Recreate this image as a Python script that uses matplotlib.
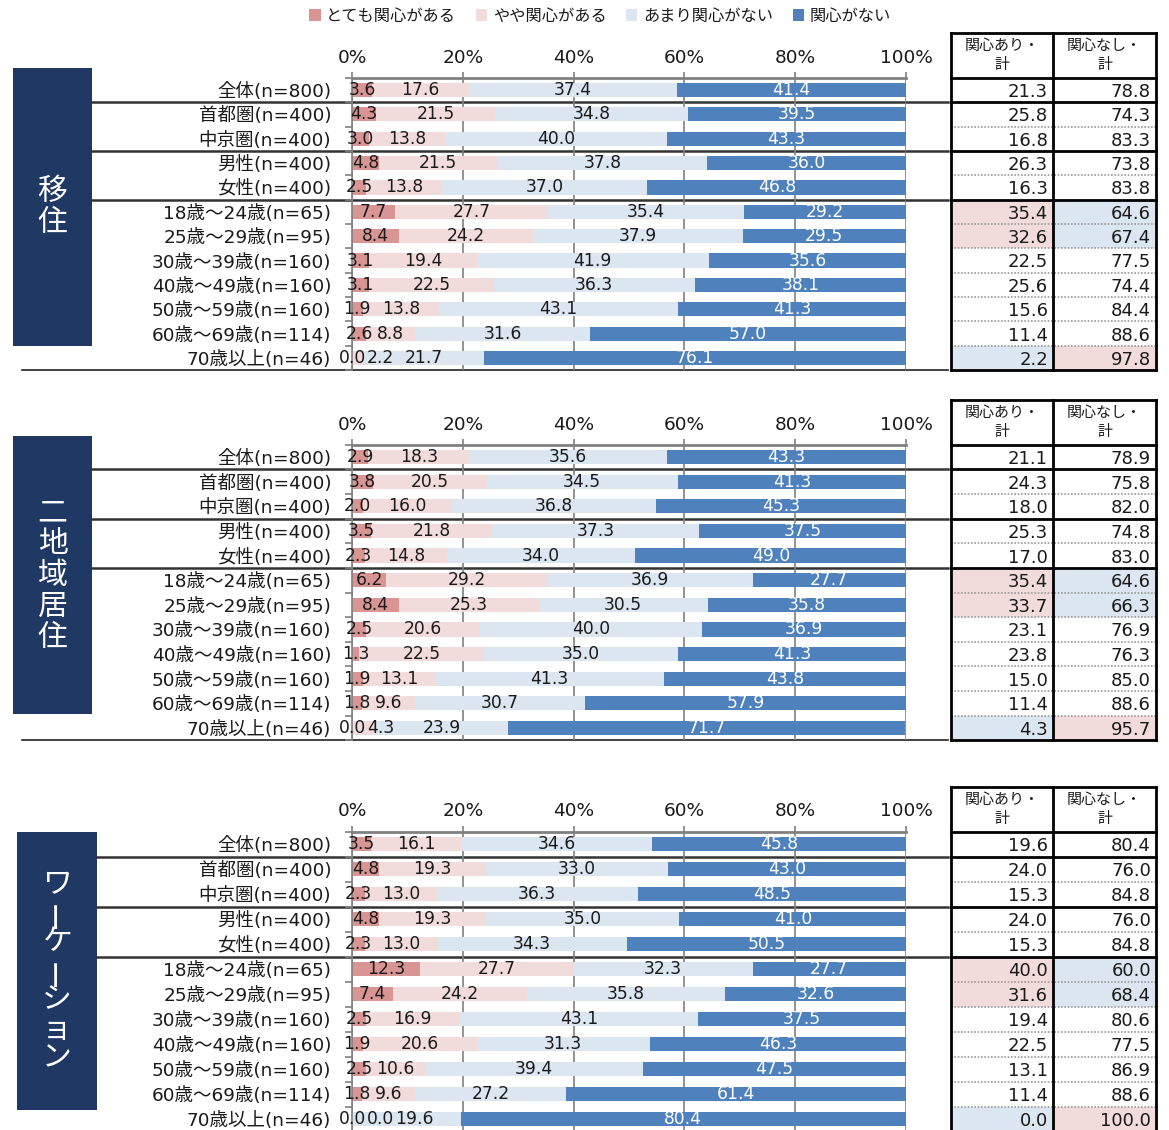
import matplotlib
matplotlib.use('Agg')
import matplotlib.pyplot as plt
from matplotlib.patches import Rectangle
from matplotlib.transforms import blended_transform_factory

plt.rcParams['font.family'] = ['DejaVu Sans', 'Noto Sans CJK JP']

W, H = 1169, 1130

# 回答カテゴリと色
categories = ['とても関心がある', 'やや関心がある', 'あまり関心がない', '関心がない']
colors = ['#D99594', '#F2DCDB', '#DCE6F1', '#4F81BD']

row_labels = ['全体(n=800)', '首都圏(n=400)', '中京圏(n=400)', '男性(n=400)', '女性(n=400)',
              '18歳～24歳(n=65)', '25歳～29歳(n=95)', '30歳～39歳(n=160)', '40歳～49歳(n=160)',
              '50歳～59歳(n=160)', '60歳～69歳(n=114)', '70歳以上(n=46)']

# 移住
iju_1 = [3.6, 4.3, 3.0, 4.8, 2.5, 7.7, 8.4, 3.1, 3.1, 1.9, 2.6, 0.0]
iju_2 = [17.6, 21.5, 13.8, 21.5, 13.8, 27.7, 24.2, 19.4, 22.5, 13.8, 8.8, 2.2]
iju_3 = [37.4, 34.8, 40.0, 37.8, 37.0, 35.4, 37.9, 41.9, 36.3, 43.1, 31.6, 21.7]
iju_4 = [41.4, 39.5, 43.3, 36.0, 46.8, 29.2, 29.5, 35.6, 38.1, 41.3, 57.0, 76.1]
iju_ari = [21.3, 25.8, 16.8, 26.3, 16.3, 35.4, 32.6, 22.5, 25.6, 15.6, 11.4, 2.2]
iju_nashi = [78.8, 74.3, 83.3, 73.8, 83.8, 64.6, 67.4, 77.5, 74.4, 84.4, 88.6, 97.8]

# 二地域居住
nichiiki_1 = [2.9, 3.8, 2.0, 3.5, 2.3, 6.2, 8.4, 2.5, 1.3, 1.9, 1.8, 0.0]
nichiiki_2 = [18.3, 20.5, 16.0, 21.8, 14.8, 29.2, 25.3, 20.6, 22.5, 13.1, 9.6, 4.3]
nichiiki_3 = [35.6, 34.5, 36.8, 37.3, 34.0, 36.9, 30.5, 40.0, 35.0, 41.3, 30.7, 23.9]
nichiiki_4 = [43.3, 41.3, 45.3, 37.5, 49.0, 27.7, 35.8, 36.9, 41.3, 43.8, 57.9, 71.7]
nichiiki_ari = [21.1, 24.3, 18.0, 25.3, 17.0, 35.4, 33.7, 23.1, 23.8, 15.0, 11.4, 4.3]
nichiiki_nashi = [78.9, 75.8, 82.0, 74.8, 83.0, 64.6, 66.3, 76.9, 76.3, 85.0, 88.6, 95.7]

# ワーケーション
work_1 = [3.5, 4.8, 2.3, 4.8, 2.3, 12.3, 7.4, 2.5, 1.9, 2.5, 1.8, 0.0]
work_2 = [16.1, 19.3, 13.0, 19.3, 13.0, 27.7, 24.2, 16.9, 20.6, 10.6, 9.6, 0.0]
work_3 = [34.6, 33.0, 36.3, 35.0, 34.3, 32.3, 35.8, 43.1, 31.3, 39.4, 27.2, 19.6]
work_4 = [45.8, 43.0, 48.5, 41.0, 50.5, 27.7, 32.6, 37.5, 46.3, 47.5, 61.4, 80.4]
work_ari = [19.6, 24.0, 15.3, 24.0, 15.3, 40.0, 31.6, 19.4, 22.5, 13.1, 11.4, 0.0]
work_nashi = [80.4, 76.0, 84.8, 76.0, 84.8, 60.0, 68.4, 80.6, 77.5, 86.9, 88.6, 100.0]

# 表の色付け（関心あり・計が高い行 / 低い行）
rows_high = [5, 6]
rows_low = [11]

table_header = ['関心あり・\n計', '関心なし・\n計']
xticks = [0, 20, 40, 60, 80, 100]

# パネル配置（px）: 名前, データ, 棒の上端, 下端, 表ヘッダ上端, 左ボックス, 縦書きの字間
panels = [
    ('移住', [iju_1, iju_2, iju_3, iju_4], iju_ari, iju_nashi, 77.8, 370.2, 33, (13, 68, 92, 346), 31),
    ('二地域居住', [nichiiki_1, nichiiki_2, nichiiki_3, nichiiki_4], nichiiki_ari, nichiiki_nashi,
     444.7, 740.3, 400, (13, 436, 92, 714), 31),
    ('ワーケーション', [work_1, work_2, work_3, work_4], work_ari, work_nashi,
     831.5, 1131.5, 787, (17, 832, 97, 1110), 29),
]

fig = plt.figure(figsize=(W / 100, H / 100), dpi=100)
bg = fig.add_axes([0, 0, 1, 1], zorder=0)
bg.set_xlim(0, W)
bg.set_ylim(H, 0)
bg.axis('off')

col_x = [951, 1053, 1156]
txt_col = '#1a1a1a'
label_size = 12.3
axis_px = 554


def label_width(s):
    # ラベル幅をデータ単位(%)で概算
    em = label_size * 100 / 72
    w = sum(0.318 if ch == '.' else 0.636 for ch in s) * em
    return w * 100 / axis_px


for name, series, ari, nashi, top, bottom, hdr_top, box, pitch in panels:
    ax = fig.add_axes([352 / W, 1 - bottom / H, axis_px / W, (bottom - top) / H], zorder=1)
    ax.set_facecolor('none')
    n = len(row_labels)
    y = list(range(n))

    left = [0.0] * n
    for k, vals in enumerate(series):
        ax.barh(y, vals, left=left, height=0.58, color=colors[k], zorder=2)
        left = [a + b for a, b in zip(left, vals)]

    # 値ラベル（重なる小さい値は右へずらす）
    for i in range(n):
        start = 0.0
        prev = None
        prev_w = 0.0
        for k, vals in enumerate(series):
            v = vals[i]
            s = f'{v:.1f}'
            w = label_width(s)
            cx = start + v / 2
            if prev is not None:
                cx = max(cx, prev + (prev_w + w) / 2 + 0.2)
            ax.text(cx, i, s, ha='center', va='center', fontsize=label_size,
                    color='white' if k == 3 else txt_col, zorder=3)
            prev, prev_w = cx, w
            start += v

    ax.set_xlim(0, 100)
    ax.set_ylim(n - 0.5, -0.5)
    ax.xaxis.tick_top()
    ax.set_xticks(xticks)
    ax.set_xticklabels([f'{t}%' for t in xticks])
    ax.tick_params(axis='x', length=4, color='#808080', width=1.2, pad=4, labelsize=13.3,
                   labelcolor=txt_col)
    ax.grid(axis='x', color='#808080', lw=1.2, zorder=1)
    ax.set_axisbelow(True)
    ax.set_yticks(y)
    ax.set_yticklabels(row_labels, fontsize=13.3, color=txt_col)
    ax.set_yticks([i - 0.5 for i in range(n + 1)], minor=True)
    ax.tick_params(axis='y', which='major', length=0, pad=15)
    ax.tick_params(axis='y', which='minor', length=5, color='#808080', width=1.2)
    for s in ('right', 'bottom'):
        ax.spines[s].set_visible(False)
    ax.spines['top'].set_color('#808080')
    ax.spines['top'].set_linewidth(2)
    ax.spines['left'].set_color('#808080')
    ax.spines['left'].set_linewidth(1.2)

    blend = blended_transform_factory(bg.transData, ax.transData)

    # グループ区切り線と下線
    for yy in (0.5, 2.5, 4.5):
        bg.plot([box[2], 948], [yy, yy], transform=blend, color='#333333', lw=1.8, clip_on=False)
    bg.plot([22, 948], [n - 0.5, n - 0.5], transform=blend, color='#222222', lw=1.2, clip_on=False)

    # 左側の見出しボックス
    bx0, by0, bx1, by1 = box
    bg.add_patch(Rectangle((bx0, by0), bx1 - bx0, by1 - by0, facecolor='#1F3864', edgecolor='none'))
    cy = (by0 + by1) / 2
    for j, ch in enumerate(name):
        yy = cy + (j - (len(name) - 1) / 2) * pitch
        bg.text((bx0 + bx1) / 2, yy, ch, ha='center', va='center', color='white', fontsize=21.5,
                family=['Noto Sans CJK JP'], rotation=90 if ch == 'ー' else 0)

    # 右側の集計表
    for i in range(n):
        for c in range(2):
            fc = 'white'
            if i in rows_high:
                fc = colors[1] if c == 0 else colors[2]
            elif i in rows_low:
                fc = colors[2] if c == 0 else colors[1]
            bg.add_patch(Rectangle((col_x[c], i - 0.5), col_x[c + 1] - col_x[c], 1, transform=blend,
                                   facecolor=fc, edgecolor='none', clip_on=False))
        bg.text(col_x[1] - 5, i + 0.08, f'{ari[i]:.1f}', transform=blend, ha='right', va='center',
                fontsize=13, color=txt_col)
        bg.text(col_x[2] - 5, i + 0.08, f'{nashi[i]:.1f}', transform=blend, ha='right', va='center',
                fontsize=13, color=txt_col)
    for i in range(1, n):
        if i in (1, 3, 5):
            continue
        bg.plot([col_x[0], col_x[2]], [i - 0.5, i - 0.5], transform=blend, color='#9a9a9a',
                lw=1.2, ls=(0, (1, 1)), clip_on=False)
    for yy in (-0.5, 0.5, 2.5, 4.5, n - 0.5):
        bg.plot([col_x[0], col_x[2]], [yy, yy], transform=blend, color='black', lw=2, clip_on=False)
    for c in range(2):
        bg.text((col_x[c] + col_x[c + 1]) / 2, (hdr_top + top) / 2, table_header[c], ha='center',
                va='center', fontsize=10.8, color=txt_col, linespacing=1.35)
    bg.plot([col_x[0], col_x[2]], [hdr_top, hdr_top], color='black', lw=2)
    for xx in col_x:
        bg.plot([xx, xx], [hdr_top, bottom], color='black', lw=2)

# 凡例
handles = [Rectangle((0, 0), 1, 1, facecolor=c, edgecolor='none') for c in colors]
fig.legend(handles, categories, loc='upper center', bbox_to_anchor=(600 / W, 1 + 6 / H), ncol=4,
           frameon=False, fontsize=11.7, handlelength=0.7, handleheight=0.7, handletextpad=0.35,
           columnspacing=1.2, labelcolor=txt_col)

fig.savefig('out.png', dpi=100)
